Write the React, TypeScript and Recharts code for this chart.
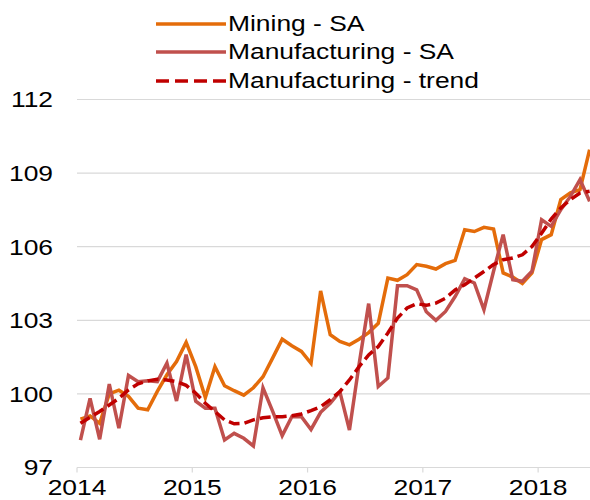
import React from "react";
import {
  LineChart,
  Line,
  XAxis,
  YAxis,
  CartesianGrid,
  Legend,
} from "recharts";

// months since Jan 2014, one value per month through Jun 2018
const MINING_SA = [
  98.97, 99.1, 98.8, 100.0, 100.15, 99.9, 99.42, 99.35, 100.1, 100.78, 101.32, 102.1,
  101.11, 99.85, 101.11, 100.33, 100.13, 99.95, 100.25, 100.7, 101.46, 102.23, 101.96, 101.73,
  101.25, 104.2, 102.41, 102.14, 102.0, 102.23, 102.5, 102.88, 104.72, 104.63, 104.86, 105.27,
  105.2, 105.09, 105.31, 105.44, 106.69, 106.62, 106.79, 106.72, 104.93, 104.76, 104.5, 104.93,
  106.29, 106.49, 107.92, 108.2, 108.33, 109.96,
];

const MANUFACTURING_SA = [
  98.12, 99.82, 98.15, 100.4, 98.6, 100.75, 100.5, 100.54, 100.5, 101.25, 99.71, 101.6,
  99.7, 99.42, 99.42, 98.12, 98.39, 98.19, 97.88, 100.25, 99.3, 98.3, 99.07, 99.07,
  98.55, 99.25, 99.62, 100.09, 98.53, 101.2, 103.68, 100.3, 100.65, 104.41, 104.41, 104.24,
  103.35, 103.0, 103.36, 103.97, 104.69, 104.52, 103.43, 105.0, 106.49, 104.65, 104.59, 105.0,
  107.1, 106.83, 107.51, 108.05, 108.73, 107.85,
];

const MANUFACTURING_TREND = [
  98.8, 99.05, 99.28, 99.55, 99.82, 100.16, 100.41, 100.53, 100.6, 100.57, 100.5, 100.35,
  100.03, 99.62, 99.28, 98.94, 98.78, 98.8, 98.94, 99.03, 99.07, 99.07, 99.11, 99.18,
  99.32, 99.48, 99.76, 100.09, 100.57, 101.11, 101.59, 101.93, 102.48, 103.09, 103.5, 103.68,
  103.61, 103.7, 103.9, 104.24, 104.45, 104.72, 104.99, 105.27, 105.47, 105.54, 105.67, 106.01,
  106.55, 107.13, 107.58, 107.92, 108.19, 108.26,
];

const YEAR_TICKS = [0, 12, 24, 36, 48];
const Y_TICKS = [97, 100, 103, 106, 109, 112];
const FIRST_YEAR = 2014;

const SERIES = [
  { key: "mining", name: "Mining - SA", color: "#E46C0A", dash: undefined },
  { key: "manuf", name: "Manufacturing - SA", color: "#C0504D", dash: undefined },
  { key: "trend", name: "Manufacturing - trend", color: "#C00000", dash: "11 5" },
];

const FONT = "'Liberation Sans', Arial, sans-serif";
// the source chart's text is stretched sideways
const STRETCH = 1.2;

const data = MINING_SA.map((v, i) => ({
  t: i + 0.36,
  mining: v,
  manuf: MANUFACTURING_SA[i],
  trend: MANUFACTURING_TREND[i],
}));

const XTick = ({ x, y, payload }: any) => (
  <text
    transform={`translate(${x},${y}) scale(${STRETCH},1)`}
    textAnchor="middle"
    dy="0.71em"
    fill="#000"
    fontSize={22}
    fontFamily={FONT}
  >
    {String(FIRST_YEAR + payload.value / 12)}
  </text>
);

const YTick = ({ x, y, payload }: any) => (
  <text
    transform={`translate(${x},${y}) scale(${STRETCH},1)`}
    textAnchor="end"
    dy="0.355em"
    fill="#000"
    fontSize={22}
    fontFamily={FONT}
  >
    {payload.value}
  </text>
);

const LegendBox = () => (
  <div style={{ fontFamily: FONT, fontSize: 22, color: "#000" }}>
    {SERIES.map((s) => (
      <div
        key={s.key}
        style={{ display: "flex", alignItems: "center", height: 28.3, whiteSpace: "nowrap" }}
      >
        <svg width={70} height={10} style={{ display: "block" }}>
          <line
            x1={0}
            x2={70}
            y1={5}
            y2={5}
            stroke={s.color}
            strokeWidth={3.5}
            strokeDasharray={s.dash ? "13 6" : undefined}
          />
        </svg>
        <span
          style={{
            marginLeft: 2,
            display: "inline-block",
            transform: `scaleX(${STRETCH})`,
            transformOrigin: "left center",
          }}
        >
          {s.name}
        </span>
      </div>
    ))}
  </div>
);

const App = () => {
  return (
    <div style={{ position: "absolute", left: 0, top: 0, width: 590, height: 500 }}>
      <LineChart
        width={590}
        height={500}
        data={data}
        margin={{ top: 99.5, right: 0, bottom: 0, left: 0 }}
      >
        <CartesianGrid vertical={false} stroke="#D9D9D9" strokeWidth={1.2} />
        <XAxis
          type="number"
          dataKey="t"
          domain={[0, 53.4]}
          ticks={YEAR_TICKS}
          height={32.5}
          stroke="#D9D9D9"
          strokeWidth={1.2}
          tickSize={5}
          tickMargin={7}
          tick={<XTick />}
        />
        <YAxis
          type="number"
          domain={[97, 112]}
          ticks={Y_TICKS}
          width={77}
          axisLine={false}
          tickLine={false}
          tickSize={0}
          tickMargin={24}
          tick={<YTick />}
        />
        <Legend
          layout="horizontal"
          verticalAlign="middle"
          align="center"
          content={() => <LegendBox />}
          wrapperStyle={{ top: 10, left: 156, width: "auto" }}
        />
        {SERIES.map((s) => (
          <Line
            key={s.key}
            type="linear"
            dataKey={s.key}
            name={s.name}
            stroke={s.color}
            strokeWidth={3.5}
            strokeDasharray={s.dash}
            dot={false}
            activeDot={false}
            isAnimationActive={false}
          />
        ))}
      </LineChart>
    </div>
  );
};

export default App;
